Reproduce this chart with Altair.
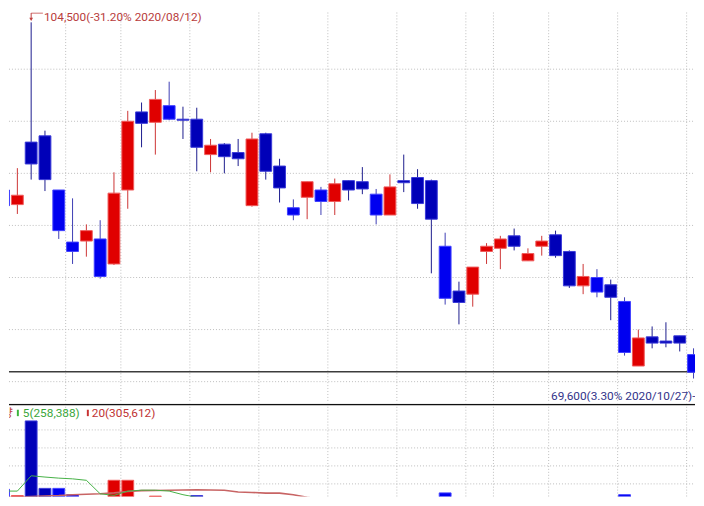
import altair as alt
import pandas as pd

# ---------------- data ----------------
holidays = ["2020-08-17", "2020-09-30", "2020-10-01", "2020-10-02", "2020-10-09"]

opens = [88400, 87000, 93000, 93600, 88400, 83400, 83500, 83700, 81300, 88400,
         95900, 94900, 96500, 95200, 95200, 91800, 92800, 92000, 86900, 93800,
         90700, 86700, 87700, 88400, 87300, 89300, 89200, 88000, 86000, 89300,
         89600, 89300, 83000, 78700, 78400, 82500, 82800, 84000, 81600, 83000,
         84100, 82500, 79200, 80000, 79300, 77700, 71500, 74300, 73900, 74400,
         72600]
highs = [88400, 90500, 104500, 94100, 88400, 87600, 85100, 85500, 90100, 96000,
         96800, 98000, 98800, 96400, 96300, 93300, 92900, 93300, 93900, 93900,
         91400, 87500, 89200, 88700, 89500, 89300, 90600, 88500, 89900, 91800,
         90400, 89400, 84300, 79600, 81000, 83300, 84000, 84700, 82800, 84000,
         84500, 82600, 81300, 80800, 79800, 78100, 75000, 75300, 75700, 74400,
         73200]
lows = [84400, 86100, 89400, 88300, 83700, 81300, 82000, 79900, 81200, 86600,
        92500, 91800, 95100, 93300, 90200, 90100, 90000, 90700, 86800, 89400,
        87200, 85500, 85600, 86000, 86000, 87400, 88000, 85100, 86000, 88200,
        86600, 80400, 77400, 75500, 77200, 81300, 80800, 82600, 81600, 82100,
        81900, 79000, 78400, 78100, 75900, 72500, 71500, 73200, 73300, 72900,
        70300]
closes = [86900, 87900, 90900, 89400, 84500, 82500, 84500, 80100, 88100, 95000,
          94800, 97100, 95200, 95100, 92500, 92700, 91600, 91400, 93300, 90200,
          88600, 86000, 89200, 87300, 89000, 88400, 88500, 86000, 88700, 89100,
          87100, 85600, 78000, 77600, 81000, 83000, 83700, 83000, 82300, 83500,
          82100, 79200, 80100, 78600, 78100, 72800, 74200, 73700, 73700, 73700,
          70900]
volumes = [850000, 675000, 2750000, 875000, 875000, 700000, 600000, 600000, 1100000, 1100000,
           550000, 660000, 500000, 450000, 675000, 420000, 380000, 350000, 560000, 480000,
           400000, 330000, 360000, 300000, 320000, 280000, 300000, 340000, 360000, 310000,
           330000, 520000, 750000, 480000, 400000, 300000, 280000, 260000, 240000, 250000,
           300000, 380000, 330000, 290000, 350000, 700000, 560000, 300000, 260000, 230000,
           450000]
ma5 = [800000, 800000, 1225000, 1190000, 1160000, 1140000, 1100000, 725000, 680000, 800000,
       825000, 825000, 800000, 700000, 625000, 590000, 520000, 460000, 470000, 450000,
       430000, 400000, 380000, 370000, 330000, 310000, 300000, 320000, 320000, 320000,
       330000, 380000, 460000, 480000, 500000, 490000, 440000, 300000, 270000, 260000,
       270000, 290000, 310000, 320000, 330000, 410000, 440000, 430000, 420000, 400000,
       350000]
ma20 = [625000, 637500, 650000, 662500, 675000, 700000, 712500, 725000, 750000, 787500,
        812500, 817500, 825000, 830000, 837500, 830000, 825000, 775000, 762500, 742500,
        742500, 700000, 625000, 580000, 540000, 510000, 480000, 460000, 440000, 420000,
        410000, 400000, 400000, 390000, 380000, 370000, 360000, 355000, 350000, 345000,
        340000, 335000, 330000, 325000, 320000, 325000, 330000, 325000, 320000, 315000,
        310000]

price_grid = [100000, 95000, 90000, 85000, 80000, 75000, 70000]
volume_grid = [1000000, 1500000, 2000000, 2500000]
base_line = [70950]

max_label = ["104,500(-31.20% 2020/08/12)"]
max_point = [2, 104500]
min_label = ["69,600(3.30% 2020/10/27)-"]
min_point = [51, 69600]
vol_title = "거래량"
ma_labels = ["5(258,388)", "20(305,612)"]

# ---------------- frames ----------------
n = len(opens)
dates = [d for d in pd.bdate_range("2020-08-10", "2020-10-26")
         if d.strftime("%Y-%m-%d") not in holidays][:n]
kinds = []
for i in range(n):
    if closes[i] > opens[i]:
        kinds.append("up")
    elif i == 0 or opens[i] < closes[i - 1]:
        kinds.append("gapdown")
    else:
        kinds.append("down")

df = pd.DataFrame({
    "k": list(range(n)),
    "date": [d.strftime("%Y-%m-%d") for d in dates],
    "open": opens, "high": highs, "low": lows, "close": closes,
    "vol": volumes, "ma5": ma5, "ma20": ma20,
    "kind": kinds,
    "wkind": ["w_" + s for s in kinds],
})
weeks = [d.isocalendar()[1] for d in dates]
bounds = pd.DataFrame({"b": [i - 0.5 for i in range(1, n) if weeks[i] != weeks[i - 1]]})

# ---------------- layout ----------------
W = 696
H_PRICE = 395
H_VOL = 94

xscale = alt.Scale(domain=[0.392857, 50.107143], nice=False, zero=False, padding=0)
pscale = alt.Scale(domain=[68060, 105442], nice=False, zero=False, padding=0)
vscale = alt.Scale(domain=[650000, 3225000], nice=False, zero=False, padding=0)

RED, DARK, BRIGHT = "#e00000", "#0000b8", "#0000f0"
fill_scale = alt.Scale(domain=["up", "down", "gapdown"], range=[RED, DARK, BRIGHT])
stroke_scale = alt.Scale(
    domain=["up", "down", "gapdown", "w_up", "w_down", "w_gapdown"],
    range=["#f05a5a", "#3a3ad8", "#4040ff", "#cc3333", "#1a1a8c", "#3c3cb4"])

GRID = "#bdbdbd"
FONT = "Roboto, Noto Sans CJK KR"

X = alt.X("k:Q", scale=xscale, axis=None)

# ----- price panel -----
hgrid = alt.Chart(pd.DataFrame({"p": price_grid})).mark_rule(
    color=GRID, strokeDash=[1, 2], strokeWidth=1).encode(
    y=alt.Y("p:Q", scale=pscale, axis=None), x=alt.value(0), x2=alt.value(W))

vgrid_p = alt.Chart(bounds).mark_rule(
    color=GRID, strokeDash=[1, 2], strokeWidth=1).encode(
    x=alt.X("b:Q", scale=xscale, axis=None), y=alt.value(0), y2=alt.value(H_PRICE))

baseline = alt.Chart(pd.DataFrame({"p": base_line})).mark_rule(
    color="#3c3c3c", strokeWidth=1.5).encode(
    y=alt.Y("p:Q", scale=pscale, axis=None), x=alt.value(0), x2=alt.value(W))

wicks = alt.Chart(df).mark_rule(strokeWidth=1, clip=True).encode(
    x=X, y=alt.Y("low:Q", scale=pscale, axis=None), y2="high:Q",
    stroke=alt.Stroke("wkind:N", scale=stroke_scale, legend=None))

bodies = alt.Chart(df).mark_bar(size=12, strokeWidth=1, clip=True).encode(
    x=X, y=alt.Y("open:Q", scale=pscale, axis=None), y2="close:Q",
    fill=alt.Fill("kind:N", scale=fill_scale, legend=None),
    stroke=alt.Stroke("kind:N", scale=stroke_scale, legend=None),
    tooltip=["date:N", "open:Q", "high:Q", "low:Q", "close:Q"])

ann_max = pd.DataFrame({"k": [max_point[0]], "p": [max_point[1]], "t": max_label,
                        "k2": [max_point[0] + 0.85]})
max_text = alt.Chart(ann_max).mark_text(
    align="left", baseline="alphabetic", dx=13, dy=-1, font=FONT, fontSize=12,
    color="#b83c3c", clip=True).encode(
    x=X, y=alt.Y("p:Q", scale=pscale, axis=None), text="t:N")
max_h = alt.Chart(ann_max).mark_rule(color="#c04040", strokeWidth=1, clip=True).encode(
    x=X, x2="k2:Q", y=alt.value(0.5))
max_v = alt.Chart(ann_max).mark_rule(color="#c04040", strokeWidth=1, clip=True).encode(
    x=X, y=alt.value(0.5), y2=alt.value(7))
max_arrow = alt.Chart(ann_max).mark_point(
    shape="triangle-down", size=14, filled=True, color="#c04040", opacity=1,
    clip=True).encode(x=X, y=alt.value(7))

ann_min = pd.DataFrame({"k": [min_point[0]], "p": [min_point[1]], "t": min_label})
min_text = alt.Chart(ann_min).mark_text(
    align="right", baseline="middle", dx=-12, dy=10, font=FONT, fontSize=12,
    color="#34348a", clip=True).encode(
    x=X, y=alt.Y("p:Q", scale=pscale, axis=None), text="t:N")

price = alt.layer(hgrid, vgrid_p, baseline, wicks, bodies,
                  max_h, max_v, max_arrow, max_text, min_text).properties(
    width=W, height=H_PRICE)

# ----- volume panel -----
vhgrid = alt.Chart(pd.DataFrame({"v": volume_grid})).mark_rule(
    color=GRID, strokeDash=[1, 2], strokeWidth=1).encode(
    y=alt.Y("v:Q", scale=vscale, axis=None), x=alt.value(0), x2=alt.value(W))

vgrid_v = alt.Chart(bounds).mark_rule(
    color=GRID, strokeDash=[1, 2], strokeWidth=1).encode(
    x=alt.X("b:Q", scale=xscale, axis=None), y=alt.value(0), y2=alt.value(H_VOL))

vbars = alt.Chart(df).mark_bar(size=12, strokeWidth=1, clip=True).encode(
    x=X, y=alt.Y("vol:Q", scale=vscale, axis=None), y2=alt.datum(0),
    fill=alt.Fill("kind:N", scale=fill_scale, legend=None),
    stroke=alt.Stroke("kind:N", scale=stroke_scale, legend=None))

line5 = alt.Chart(df).mark_line(color="#44b044", strokeWidth=1, clip=True).encode(
    x=X, y=alt.Y("ma5:Q", scale=vscale, axis=None))
line20 = alt.Chart(df).mark_line(color="#c86464", strokeWidth=1.6, clip=True).encode(
    x=X, y=alt.Y("ma20:Q", scale=vscale, axis=None))

topline = alt.Chart(pd.DataFrame({"a": [0]})).mark_rule(
    color="#101010", strokeWidth=1.5, clip=True).encode(
    x=alt.value(0), x2=alt.value(W), y=alt.value(0.75))

leg = pd.DataFrame({"t": [vol_title, ma_labels[0], ma_labels[1]]})
leg_title = alt.Chart(leg.iloc[[0]]).mark_text(
    align="right", baseline="middle", font=FONT, fontSize=12, color="#c04040",
    clip=True).encode(x=alt.value(4), y=alt.value(9.5), text="t:N")
leg_g = alt.Chart(leg.iloc[[1]]).mark_text(
    align="left", baseline="middle", font=FONT, fontSize=12, color="#3aa63a",
    clip=True).encode(x=alt.value(14), y=alt.value(9.5), text="t:N")
leg_r = alt.Chart(leg.iloc[[2]]).mark_text(
    align="left", baseline="middle", font=FONT, fontSize=12, color="#c03434",
    clip=True).encode(x=alt.value(84), y=alt.value(9.5), text="t:N")
sw = pd.DataFrame({"a": [0]})
sw_g = alt.Chart(sw).mark_rect(color="#3cb43c").encode(
    x=alt.value(8), x2=alt.value(10), y=alt.value(6), y2=alt.value(12.5))
sw_r = alt.Chart(sw).mark_rect(color="#c83232").encode(
    x=alt.value(79), x2=alt.value(81), y=alt.value(6), y2=alt.value(12.5))

vol = alt.layer(vhgrid, vgrid_v, vbars, line20, line5, topline,
                leg_title, leg_g, leg_r, sw_g, sw_r).properties(
    width=W, height=H_VOL)

chart = alt.vconcat(price, vol, spacing=0).properties(
    padding=0, background="white"
).configure_view(stroke=None).configure_concat(spacing=0)

chart.save("out.html", embed_options={"renderer": "svg", "actions": False})
